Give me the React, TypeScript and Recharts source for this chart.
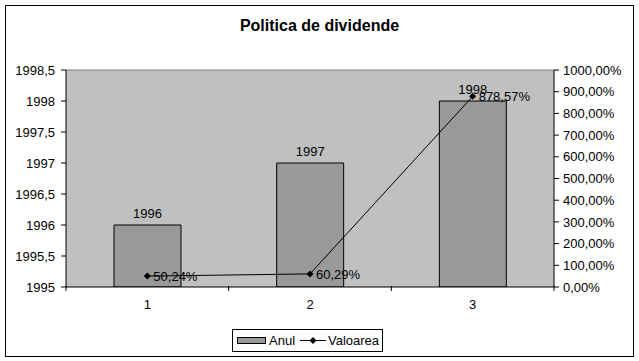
import { Bar, ComposedChart, LabelList, Line, ReferenceLine, XAxis, YAxis, CartesianGrid } from "recharts";

const categories = ["1", "2", "3"];
const anul = [1996, 1997, 1998];
const valoarea = [0.5024, 0.6029, 8.7857];
const leftTicks = [1995, 1995.5, 1996, 1996.5, 1997, 1997.5, 1998, 1998.5];
const rightTicks = [0, 1, 2, 3, 4, 5, 6, 7, 8, 9, 10];

const data = categories.map((c, i) => ({ cat: c, anul: anul[i], valoarea: valoarea[i] }));

const FONT = "'Liberation Sans', Arial, sans-serif";
const comma = (s: string) => s.replace(".", ",");
const pct = (v: number) => comma((v * 100).toFixed(2)) + "%";

function Diamond(props: { cx?: number; cy?: number }) {
  const { cx, cy } = props;
  if (cx == null || cy == null) return null;
  return <path d={`M${cx} ${cy - 3.5}L${cx + 3.5} ${cy}L${cx} ${cy + 3.5}L${cx - 3.5} ${cy}Z`} fill="#000" />;
}

function CatTick(props: any) {
  const { x, y, payload, index } = props;
  const half = payload?.offset ?? 81;
  const axisY = y - 14;
  return (
    <g>
      <line x1={x - half} x2={x - half} y1={axisY} y2={axisY + 5} stroke="#000" />
      {index === categories.length - 1 && (
        <line x1={x + half} x2={x + half} y1={axisY} y2={axisY + 5} stroke="#000" />
      )}
      <text x={x} y={y} dy="0.71em" textAnchor="middle" fontSize={13} fill="#000" fontFamily={FONT}>
        {payload.value}
      </text>
    </g>
  );
}

export default function App() {
  return (
    <div style={{ position: "absolute", left: 0, top: 0, width: 639, height: 361, background: "#fff", fontFamily: FONT }}>
      <div style={{ position: "absolute", left: 5, top: 5, width: 629, height: 352, border: "1px solid #000", boxSizing: "border-box" }} />
      <div style={{ position: "absolute", left: 0, top: 17, width: 639, textAlign: "center", fontSize: 16, fontWeight: "bold", color: "#000" }}>
        Politica de dividende
      </div>
      <div style={{ position: "absolute", left: 0, top: 0 }}>
        <ComposedChart width={639} height={361} data={data} margin={{ top: 70, right: 0, bottom: 44, left: 0 }} barSize={67}>
          <CartesianGrid yAxisId="left" fill="#C0C0C0" horizontal={false} vertical={false} />
          <ReferenceLine yAxisId="left" y={1998.5} stroke="#808080" />
          <XAxis
            dataKey="cat"
            height={30}
            axisLine={{ stroke: "#000" }}
            tickLine={false}
            tickMargin={0}
            tickSize={13}
            tick={<CatTick />}
          />
          <YAxis
            yAxisId="left"
            width={66}
            domain={[1995, 1998.5]}
            ticks={leftTicks}
            interval={0}
            allowDataOverflow
            axisLine={{ stroke: "#000" }}
            tickLine={{ stroke: "#000" }}
            tickSize={5}
            tickMargin={6}
            tick={{ fill: "#000", fontSize: 13, fontFamily: FONT }}
            tickFormatter={(v: number) => comma(String(v))}
          />
          <YAxis
            yAxisId="right"
            orientation="right"
            width={85}
            domain={[0, 10]}
            ticks={rightTicks}
            interval={0}
            axisLine={{ stroke: "#000" }}
            tickLine={{ stroke: "#000" }}
            tickSize={5}
            tickMargin={4}
            tick={{ fill: "#000", fontSize: 13, fontFamily: FONT, textAnchor: "start" }}
            tickFormatter={pct}
          />
          <Bar yAxisId="left" dataKey="anul" fill="#999999" stroke="#000" strokeWidth={1} isAnimationActive={false}>
            <LabelList dataKey="anul" position="top" offset={7} fill="#000" fontSize={13} fontFamily={FONT} />
          </Bar>
          <Line
            yAxisId="right"
            dataKey="valoarea"
            stroke="#000"
            strokeWidth={1}
            dot={<Diamond />}
            activeDot={false}
            isAnimationActive={false}
          >
            <LabelList
              dataKey="valoarea"
              position="right"
              offset={6}
              fill="#000"
              fontSize={13}
              fontFamily={FONT}
              formatter={(v: any) => pct(Number(v))}
            />
          </Line>
        </ComposedChart>
      </div>
      <div
        style={{
          position: "absolute",
          left: 232,
          top: 329,
          width: 151,
          height: 23,
          border: "1px solid #000",
          boxSizing: "border-box",
          color: "#000",
        }}
      >
        <svg width={149} height={21} style={{ position: "absolute", left: 0, top: 0 }}>
          <rect x={4.5} y={7.5} width={28} height={6} fill="#999999" stroke="#000" />
          <text x={36} y={15} fontSize={13} fontFamily={FONT}>Anul</text>
          <line x1={67} x2={93} y1={10.5} y2={10.5} stroke="#000" />
          <Diamond cx={80} cy={10.5} />
          <text x={95} y={15} fontSize={13} fontFamily={FONT}>Valoarea</text>
        </svg>
      </div>
    </div>
  );
}
